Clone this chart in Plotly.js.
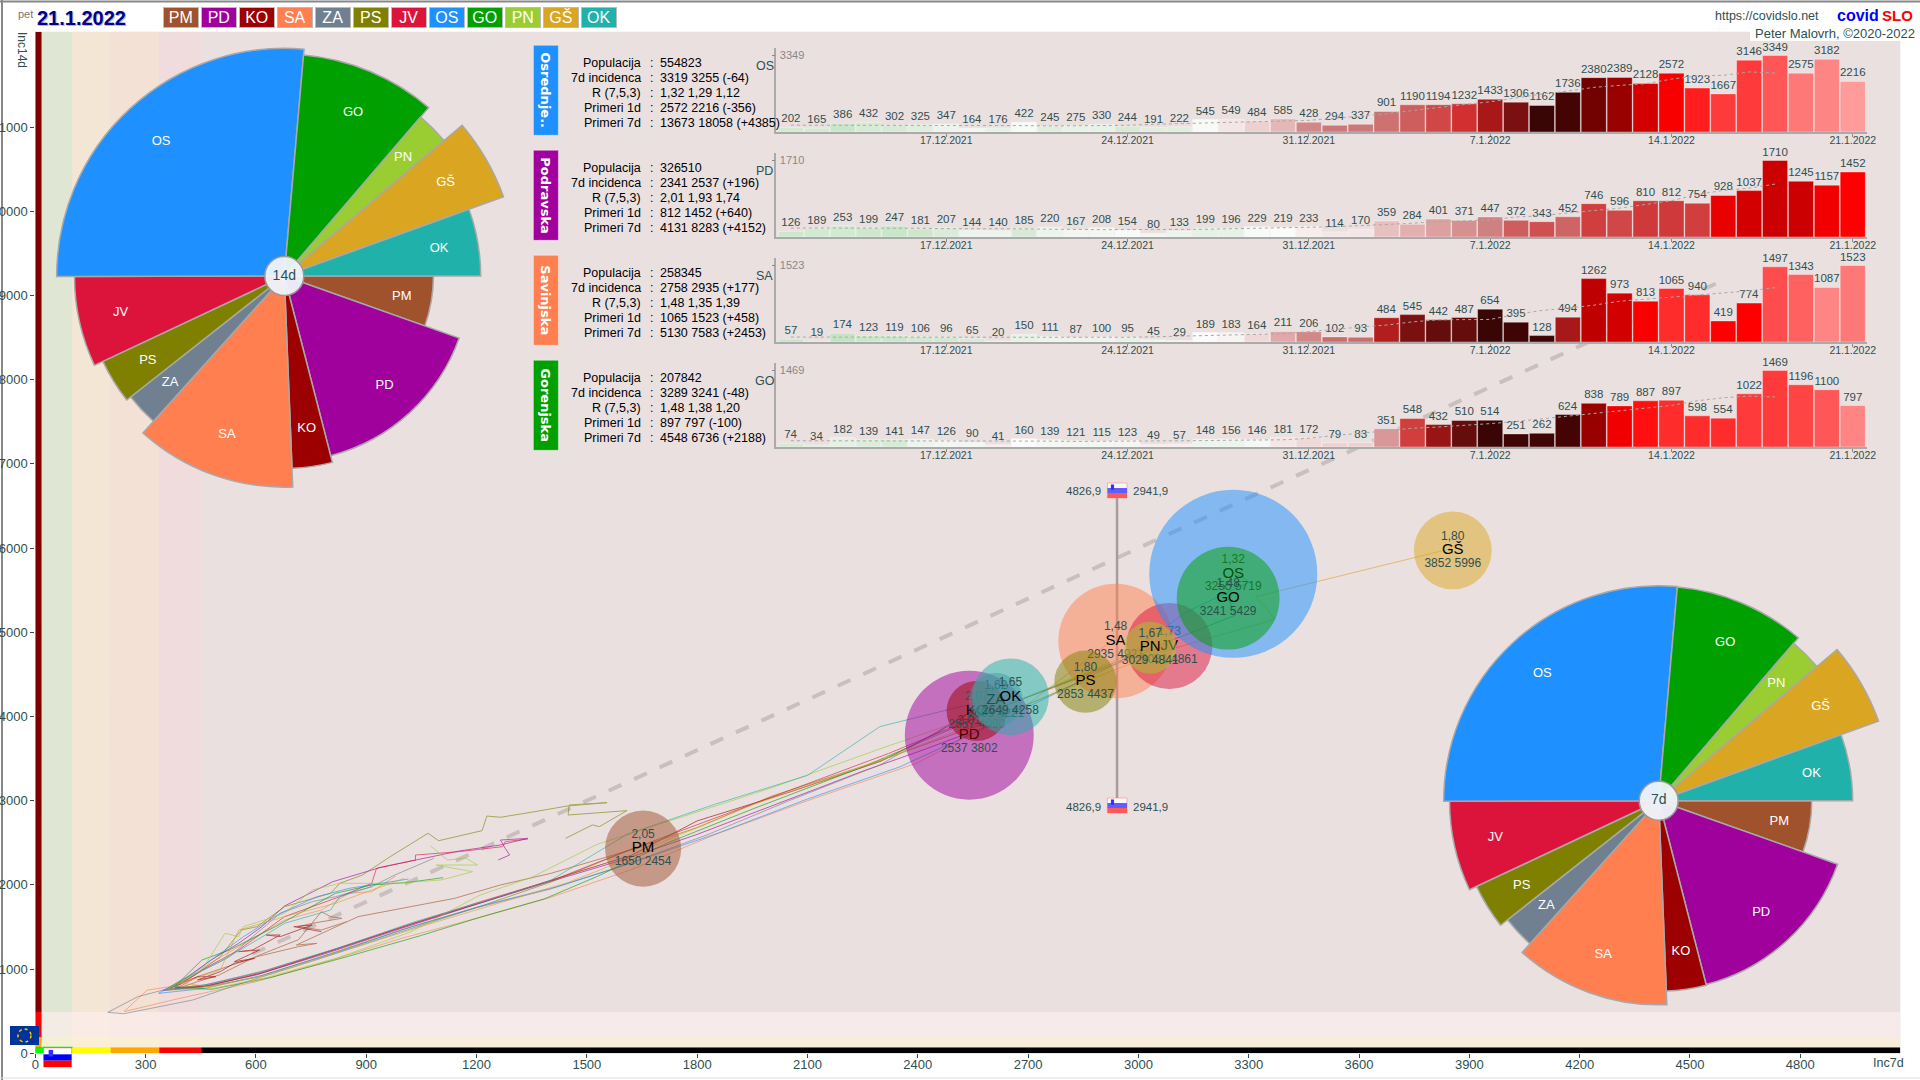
<!DOCTYPE html>
<html><head><meta charset="utf-8">
<script src="https://cdn.plot.ly/plotly-3.0.1.min.js"></script>
<style>html,body{margin:0;padding:0;background:#fff;overflow:hidden}#c{width:1920px;height:1080px}</style>
</head><body><div id="c"></div>
<script>
// ---------- data ----------
const codes   = ['PM','PD','KO','SA','ZA','PS','JV','OS','GO','PN','GŠ','OK'];
const colors  = ['#A0522D','#A0009C','#9C0000','#FF7F50','#708090','#808000','#DC143C','#1E90FF','#00A000','#9ACD32','#DAA520','#20B2AA'];
const populacija = [114000,326510,71000,258345,57000,76000,146000,554823,207842,53000,119000,116000];
const inc7  = [1650,2537,2557,2935,2609,2853,3081,3255,3241,3029,3852,2649];
const inc14 = [2454,3802,4090,4921,4221,4437,4861,5719,5429,4841,5996,4258];
const rLabels = ['2,05','2,01','2,07','1,48','1,62','1,80','1,73','1,32','1,48','1,67','1,80','1,65'];

const days = ['11.12.2021','12.12.2021','13.12.2021','14.12.2021','15.12.2021','16.12.2021','17.12.2021','18.12.2021','19.12.2021','20.12.2021','21.12.2021','22.12.2021','23.12.2021','24.12.2021','25.12.2021','26.12.2021','27.12.2021','28.12.2021','29.12.2021','30.12.2021','31.12.2021','1.1.2022','2.1.2022','3.1.2022','4.1.2022','5.1.2022','6.1.2022','7.1.2022','8.1.2022','9.1.2022','10.1.2022','11.1.2022','12.1.2022','13.1.2022','14.1.2022','15.1.2022','16.1.2022','17.1.2022','18.1.2022','19.1.2022','20.1.2022','21.1.2022'];
const dayTicks = ['17.12.2021','24.12.2021','31.12.2021','7.1.2022','14.1.2022','21.1.2022'];

const casesOS = [202,165,386,432,302,325,347,164,176,422,245,275,330,244,191,222,545,549,484,585,428,294,337,901,1190,1194,1232,1433,1306,1162,1736,2380,2389,2128,2572,1923,1667,3146,3349,2575,3182,2216];
const casesPD = [126,189,253,199,247,181,207,144,140,185,220,167,208,154,80,133,199,196,229,219,233,114,170,359,284,401,371,447,372,343,452,746,596,810,812,754,928,1037,1710,1245,1157,1452];
const casesSA = [57,19,174,123,119,106,96,65,20,150,111,87,100,95,45,29,189,183,164,211,206,102,93,484,545,442,487,654,395,128,494,1262,973,813,1065,940,419,774,1497,1343,1087,1523];
const casesGO = [74,34,182,139,141,147,126,90,41,160,139,121,115,123,49,57,148,156,146,181,172,79,83,351,548,432,510,514,251,262,624,838,789,887,897,598,554,1022,1469,1196,1100,797];

const avgOS = [300,300,305,309,303,305,310,283,279,280,265,269,276,293,337,367,403,429,444,461,511,603,704,797,940,1085,1203,1322,1492,1663,1791,1954,2042,2114,2315,2454,2480,2631,2580];
const avgPD = [200,200,200,200,203,196,186,189,178,182,174,165,164,166,162,171,173,184,189,194,217,230,254,276,307,343,368,381,447,475,538,590,645,728,812,950,1042,1092,1183];
const avgSA = [98,98,99,99,100,100,97,95,91,90,90,87,88,94,104,115,131,147,155,164,206,258,298,337,401,443,448,449,552,628,674,733,811,852,892,926,979,1018,1083];
const avgGO = [120,120,120,120,123,124,121,121,118,113,113,107,109,107,110,113,123,130,134,138,167,223,264,311,360,384,410,449,490,541,595,650,699,741,798,888,946,977,962];

// colour position of each bar on the shade scale
const shadeOS = [.1,.1,.05,.12,.12,.15,.2,.22,.18,.24,.15,.18,.18,.12,.15,.15,.24,.28,.31,.34,.4,.42,.42,.43,.46,.5,.55,.59,.62,.65,.67,.71,.74,.79,.84,.87,.89,.89,.92,.95,.96,.98];
const shadePD = [.08,.1,.1,.08,.05,.07,.13,.2,.2,.12,.2,.22,.22,.24,.22,.2,.17,.18,.24,.25,.27,.28,.28,.33,.35,.37,.39,.41,.46,.48,.45,.52,.5,.53,.53,.52,.82,.79,.78,.78,.83,.85];
const shadeSA = [.03,.1,.02,.06,.06,.1,.1,.12,.16,.18,.2,.2,.2,.18,.2,.2,.25,.26,.3,.36,.4,.44,.44,.58,.62,.63,.63,.65,.66,.66,.59,.77,.79,.84,.88,.88,.85,.85,.91,.93,.96,.95];
const shadeGO = [.12,.14,.17,.14,.12,.2,.22,.22,.27,.25,.23,.22,.22,.22,.27,.27,.2,.2,.23,.28,.3,.31,.31,.38,.52,.6,.63,.65,.66,.66,.67,.74,.83,.86,.88,.88,.88,.89,.89,.9,.92,.96];

const tableLabels = ['Populacija','7d incidenca','R (7,5,3)','Primeri 1d','Primeri 7d'];
const tableOS = ['554823','3319 3255 (-64)','1,32 1,29 1,12','2572 2216 (-356)','13673 18058 (+4385)'];
const tablePD = ['326510','2341 2537 (+196)','2,01 1,93 1,74','812 1452 (+640)','4131 8283 (+4152)'];
const tableSA = ['258345','2758 2935 (+177)','1,48 1,35 1,39','1065 1523 (+458)','5130 7583 (+2453)'];
const tableGO = ['207842','3289 3241 (-48)','1,48 1,38 1,20','897 797 (-100)','4548 6736 (+2188)'];

const trailXPM = [847,778,716,753,834,803,778,716,600,500,441,380,441,603,716,766,710,878,1140,1265,1402,1650];
const trailYPM = [1563,1464,1504,1544,1603,1623,1682,1350,1150,930,850,760,910,1148,1267,1306,1286,1623,1840,1999,2137,2454];
const trailXPD = [1259,1290,1278,1265,1340,1265,1153,1034,940,809,728,678,616,553,478,403,347,450,600,800,1000,1200,1400,1600,1800,2000,2250,2400,2537];
const trailYPD = [2296,2355,2434,2533,2553,2474,2403,2296,2209,2038,1860,1750,1504,1306,1108,871,745,790,930,1200,1490,1770,2040,2300,2600,2930,3350,3580,3802];
const trailXKO = [778,703,753,666,628,666,591,553,610,541,597,541,503,441,491,441,366,470,620,820,1020,1220,1420,1620,1800,2050,2300,2450,2557];
const trailYKO = [1445,1504,1524,1385,1405,1405,1227,1207,1227,1088,1128,1069,970,871,910,910,772,800,960,1240,1530,1800,2080,2350,2760,3100,3470,3800,4090];
const trailXSA = [980,915,853,778,678,553,441,366,304,241,380,600,800,1000,1215,1400,1620,1850,2100,2400,2700,2935];
const trailYSA = [2106,1920,1900,1702,1583,1267,989,791,750,494,640,850,1100,1370,1620,1850,2180,2600,3000,3450,4150,4921];
const trailXZA = [1084,978,915,816,753,666,591,528,441,366,279,235,197,241,428,553,778,1000,1200,1400,1600,1830,2050,2300,2609];
const trailYZA = [2316,2118,1979,1860,1801,1662,1385,1148,950,772,673,574,486,470,633,820,1130,1450,1730,1950,2230,2600,3000,3430,4221];
const trailXPS = [1442,1515,1534,1609,1449,1452,1555,1446,1359,1265,1228,1215,1097,1068,965,890,828,803,678,603,560,503,428,354,450,600,800,1000,1220,1400,1620,1800,2000,2300,2600,2853];
const trailYPS = [2553,2712,2692,2882,2830,2949,2977,2937,2870,2803,2818,2644,2525,2613,2335,2118,2019,1900,1742,1504,1464,1148,910,752,780,900,1180,1470,1760,2030,2420,2680,3050,3480,3950,4437];
const trailXJV = [1340,1278,1271,1153,1034,1034,928,915,828,778,678,616,553,453,379,460,610,810,1010,1210,1410,1600,1830,2050,2320,2620,2900,3081];
const trailYJV = [2545,2514,2454,2395,2355,2296,2197,2019,1860,1781,1623,1425,1227,989,772,810,960,1230,1520,1800,2060,2390,2760,3120,3560,4100,4560,4861];
const trailXOS = [1015,940,853,766,666,566,491,403,335,460,620,820,1020,1230,1420,1620,1860,2100,2350,2600,2950,3125,3303,3255];
const trailYOS = [2070,2019,1959,1860,1662,1385,1148,871,712,770,930,1200,1500,1770,1980,2260,2620,3020,3400,3900,4650,5229,5600,5719];
const trailXGO = [1109,1059,1009,915,816,653,528,453,379,480,640,850,1050,1215,1384,1527,1720,1950,2250,2650,3000,3265,3241];
const trailYGO = [2086,2058,2027,1999,1900,1504,1227,1108,791,760,900,1150,1400,1623,1833,2098,2500,2900,3400,4150,4750,5205,5429];
const trailXPN = [1074,1121,1171,1203,1090,1190,1103,978,828,753,678,566,553,516,453,354,470,620,820,1020,1210,1350,1527,1750,2000,2300,2650,2900,3029];
const trailYPN = [2466,2296,2316,2236,2236,2157,2058,2019,2019,1940,1662,1504,1385,1425,989,752,760,890,1130,1440,1880,2090,2480,2800,3150,3620,4150,4600,4841];
const trailXGS = [1003,915,816,678,553,503,397,480,640,850,1060,1250,1450,1560,1700,1950,2300,2700,3050,3372,3319,3852];
const trailYGS = [2077,1940,1781,1623,1464,989,831,790,940,1230,1520,1770,2030,2220,2500,2950,3480,4150,4750,5157,5423,5996];
const trailXOK = [915,828,803,728,678,603,503,397,354,470,630,830,1030,1240,1400,1609,1850,2100,2297,2500,2649];
const trailYOK = [1979,1860,1702,1603,1544,1346,1088,871,752,820,990,1260,1560,1830,2050,2600,2960,3300,3880,4100,4258];

const trendX = [590,4570];
const trendY = [1180,9140];
const avgIncX = [2941.9,2941.9];
const avgIncY = [3032,6600];

const xTicks = [0,300,600,900,1200,1500,1800,2100,2400,2700,3000,3300,3600,3900,4200,4500,4800];
const yTicks = [0,1000,2000,3000,4000,5000,6000,7000,8000,9000,10000,11000];
const colEdges = [17,100,205,337,451];
const colFills = ['#dfe6d3','#f3e6d5','#f3e1d5','#f0dcdc'];
const rowEdges = [75,194,490];
const rowFills = ['rgba(255,245,215,.62)','rgba(255,240,240,.6)'];
const sideEdges = [0,75,194,490,12133];
const sideFills = ['#00dd00','#ffa500','#ff0000','#800000'];
const footEdges = [0,22,100,205,337,451,5072];
const footFills = ['#00ff00','#ffffff','#ffff00','#ffa500','#ff0000','#000000'];

// ---------- helpers ----------
const W=1920,H=1080;
const WIDE="'Liberation Sans',Arial,sans-serif";
const INK='#2F4F4F';
const px=x=>x/W, py=y=>1-y/H;
const note=(x,y,text,o={})=>Object.assign({xref:'paper',yref:'paper',x:px(x),y:py(y),text,showarrow:false,xanchor:'left',yanchor:'middle',
  font:{family:WIDE,size:12.5,color:INK}},o);
const rect=(x0,y0,x1,y1,fill,o={})=>Object.assign({type:'rect',xref:'paper',yref:'paper',x0:px(x0),x1:px(x1),y0:py(y0),y1:py(y1),fillcolor:fill,line:{width:0},layer:'below'},o);

const traces=[],annotations=[],shapes=[];

// ---------- backgrounds ----------
shapes.push(rect(35.3,31.7,1900.3,1053.3,'#ebe0e0'));
shapes.push({type:'line',xref:'paper',yref:'paper',x0:0,x1:1,y0:py(1.5),y1:py(1.5),line:{color:'#888',width:2},layer:'below'});
shapes.push({type:'line',xref:'paper',yref:'paper',x0:px(2),x1:px(2),y0:0,y1:1,line:{color:'#888',width:2},layer:'below'});
shapes.push({type:'line',xref:'paper',yref:'paper',x0:0,x1:1,y0:py(1078),y1:py(1078),line:{color:'#ddd',width:1},layer:'below'});
const band=(x0,x1,y0,y1,fill,o={})=>Object.assign({type:'rect',xref:'x',yref:'y',x0,x1,y0,y1,fillcolor:fill,line:{width:0},layer:'below'},o);
colFills.forEach((f,i)=>shapes.push(band(colEdges[i],colEdges[i+1],0,12133,f)));
rowFills.forEach((f,i)=>shapes.push(band(0,5072,rowEdges[i],rowEdges[i+1],f)));
sideFills.forEach((f,i)=>shapes.push(band(0,17,sideEdges[i],sideEdges[i+1],f)));
footFills.forEach((f,i)=>shapes.push(band(footEdges[i],footEdges[i+1],0,70,f,i==1?{line:{width:1.5,color:'#00ee00'}}:{})));

// ---------- trend and trails ----------
traces.push({type:'scatter',mode:'lines',x:trendX,y:trendY,line:{color:'#c9bfbf',width:4,dash:'14px,14px'},hoverinfo:'skip'});
const trailX=[trailXPM,trailXPD,trailXKO,trailXSA,trailXZA,trailXPS,trailXJV,trailXOS,trailXGO,trailXPN,trailXGS,trailXOK];
const trailY=[trailYPM,trailYPD,trailYKO,trailYSA,trailYZA,trailYPS,trailYJV,trailYOS,trailYGO,trailYPN,trailYGS,trailYOK];
codes.forEach((c,i)=>traces.push({type:'scatter',mode:'lines',x:trailX[i],y:trailY[i],line:{color:colors[i],width:1},opacity:.6,hoverinfo:'skip'}));
traces.push({type:'scatter',mode:'lines',x:avgIncX,y:avgIncY,line:{color:'#a89c9c',width:2.5},hoverinfo:'skip'});

// ---------- bubbles ----------
const lift=163, nudgeX=3, nudgeY=24;
codes.forEach((c,i)=>{
  const bx=inc7[i]+nudgeX, by=inc14[i]-nudgeY;
  traces.push({type:'scatter',mode:'markers',x:[bx],y:[by],
    marker:{size:[populacija[i]],sizemode:'area',sizeref:39.3,color:colors[i],opacity:.5,line:{width:0}},hoverinfo:'skip'});
  traces.push({type:'scatter',mode:'text',x:[bx,bx,bx],y:[by+lift,by,by-lift],
    text:[rLabels[i],c,inc7[i]+' '+inc14[i]],textposition:'middle center',
    textfont:{family:WIDE,size:[12,15,12],color:[INK,'#000',INK]},hoverinfo:'skip'});
});

// ---------- regional bars ----------
const shadeScale=[[0,'#bfe3bf'],[.12,'#d6ead6'],[.25,'#fbfbfb'],[.3,'#f0d8d8'],[.36,'#e0a8a8'],[.42,'#cc7878'],[.48,'#cf5050'],[.55,'#d03030'],[.59,'#a81818'],[.62,'#7a1010'],[.65,'#3a0505'],[.68,'#4a0404'],[.72,'#800000'],[.78,'#cc0000'],[.85,'#ff0000'],[.89,'#ff3a3a'],[.93,'#ff6060'],[.97,'#ff9090'],[1,'#ffb0b0']];
const panelCases=[casesOS,casesPD,casesSA,casesGO], panelAvg=[avgOS,avgPD,avgSA,avgGO], panelShade=[shadeOS,shadePD,shadeSA,shadeGO];
const panelCodes=['OS','PD','SA','GO'], panelNames=['Osrednje..','Podravska','Savinjska','Gorenjska'];
const panelFill=['#1E90FF','#A0009C','#FF7F50','#00A000'], panelTable=[tableOS,tablePD,tableSA,tableGO];

const layout={width:W,height:H,margin:{l:0,r:0,t:0,b:0},paper_bgcolor:'#ffffff',plot_bgcolor:'rgba(0,0,0,0)',showlegend:false,barmode:'overlay',
  xaxis:{domain:[px(35.3),px(1900.3)],range:[0,5072],tickvals:xTicks,ticks:'outside',ticklen:4,tickcolor:INK,ticklabelstandoff:-5,tickfont:{family:WIDE,size:13,color:INK},showgrid:false,zeroline:false,showline:false},
  yaxis:{domain:[py(1053.3),py(31.7)],range:[0,12133],tickvals:yTicks,tickformat:'d',ticks:'outside',ticklen:4,tickcolor:INK,tickfont:{family:WIDE,size:13,color:INK},showgrid:false,zeroline:false,showline:false},
  bargap:.03};

panelCases.forEach((vals,p)=>{
  const base=132+105*p, n=p+2, xa='x'+n, ya='y'+n, top=Math.max(...vals);
  layout['xaxis'+n]={domain:[px(776.3),px(1867)],anchor:ya,type:'category',categoryorder:'array',categoryarray:days,range:[-0.563,41.55],
    tickmode:'array',tickvals:dayTicks,ticktext:dayTicks,ticks:'outside',ticklen:3,tickcolor:'#888',showline:true,linecolor:'#aaa',linewidth:1.5,ticklabelstandoff:-5,
    tickfont:{family:WIDE,size:10.5,color:INK},showgrid:false,zeroline:false,tickangle:0};
  layout['yaxis'+n]={domain:[py(base),py(base-84)],anchor:xa,range:[0,top*84/76.5],tickmode:'array',tickvals:[top],ticks:'outside',ticklen:3,tickcolor:'#888',
    ticklabelposition:'inside',ticklabelstandoff:3,showline:true,linecolor:'#aaa',linewidth:1.5,tickfont:{family:WIDE,size:11,color:'#888'},showgrid:false,zeroline:false};
  traces.push({type:'bar',xaxis:xa,yaxis:ya,x:days,y:vals,text:vals.map(String),textposition:'outside',textangle:0,constraintext:'none',cliponaxis:false,
    textfont:{family:WIDE,size:11.5,color:INK},
    marker:{color:panelShade[p],colorscale:shadeScale,cmin:0,cmax:1,showscale:false,line:{color:'rgba(255,255,255,.35)',width:1}},hoverinfo:'skip'});
  traces.push({type:'scatter',mode:'lines',xaxis:xa,yaxis:ya,x:days.slice(0,panelAvg[p].length),y:panelAvg[p],line:{color:'#a8a8a8',width:1,dash:'dot'},hoverinfo:'skip'});
  // tag and table
  shapes.push(rect(533.4,45.3+105*p,558.4,135.3+105*p,panelFill[p],{line:{color:'rgba(255,255,255,.4)',width:1}}));
  annotations.push(note(546,90.3+105*p,panelNames[p],{textangle:90,xanchor:'center',font:{family:"'DejaVu Sans',sans-serif",size:13,color:'#fff',weight:700}}));
  annotations.push(note(764.6,66+105*p,panelCodes[p],{xanchor:'center',font:{family:WIDE,size:12.5,color:INK}}));
  tableLabels.forEach((l,r)=>{
    const y=62.7+15*r+105*p;
    annotations.push(note(642.8,y,l,{xanchor:'right',font:{family:WIDE,size:12.5,color:'#000'}}));
    annotations.push(note(651.7,y,':',{xanchor:'center',font:{family:WIDE,size:12.5,color:'#000'}}));
    annotations.push(note(658,y,panelTable[p][r],{font:{family:WIDE,size:12.5,color:'#000'}}));
  });
});

// ---------- pies ----------
const total=populacija.reduce((a,b)=>a+b,0);
const widths=populacija.map(v=>v/total*360);
let run=0; const thetas=widths.map(w=>{const t=run+w/2;run+=w;return t;});
function pie(sub,cx,cy,incs,unit,tag){
  const R=240;
  layout[sub]={domain:{x:[px(cx-R),px(cx+R)],y:[py(cy+R),py(cy-R)]},bgcolor:'rgba(0,0,0,0)',bargap:0,
    radialaxis:{visible:false,range:[0,R/unit]},angularaxis:{visible:false,rotation:0,direction:'clockwise'}};
  const radii=incs.map(v=>Math.sqrt(v));
  traces.push({type:'barpolar',subplot:sub,r:radii,theta:thetas,width:widths,marker:{color:colors,line:{color:'#a8a8a8',width:1.5}},hoverinfo:'skip'});
  traces.push({type:'scatterpolar',subplot:sub,mode:'text',r:radii.map(v=>v*.8),theta:thetas,text:codes,textposition:'middle center',
    textfont:{family:WIDE,size:13,color:'#fff'},hoverinfo:'skip'});
  traces.push({type:'scatterpolar',subplot:sub,mode:'markers+text',r:[0],theta:[0],text:[tag],textposition:'middle center',
    marker:{size:39,color:'rgba(240,244,250,.95)',line:{color:'#999',width:1.5}},textfont:{family:WIDE,size:14,color:INK},hoverinfo:'skip'});
}
pie('polar',284.3,276,inc14,3.01,'14d');
pie('polar2',1658.7,800.7,inc7,3.768,'7d');

// ---------- header ----------
annotations.push(note(16,14,'pet',{font:{family:WIDE,size:11,color:'#777'}}));
annotations.push(note(35.7,19,'21.1.2022',{font:{family:WIDE,size:20,color:'#b8b8c8',weight:700}}));
annotations.push(note(34.5,18,'21.1.2022',{font:{family:WIDE,size:20,color:'#00008B',weight:700}}));
codes.forEach((c,i)=>annotations.push(note(181+38*i,17.5,c,{xanchor:'center',width:33.5,height:18.5,bgcolor:colors[i],bordercolor:'#bbb',borderwidth:1,borderpad:0,align:'center',
  font:{family:WIDE,size:16,color:'#fff'}})));
annotations.push(note(1713,16,'https://covidslo.net',{font:{family:WIDE,size:12.5,color:INK}}));
annotations.push(note(1835,15.5,'covid',{font:{family:WIDE,size:16,color:'#0000ff',weight:700}}));
annotations.push(note(1880,15.5,'SLO',{font:{family:WIDE,size:15,color:'#ff0000',weight:700}}));
shapes.push(rect(1750,28,W,41,'#ffffff',{layer:'above'}));
annotations.push(note(1753,34,'Peter Malovrh, ©2020-2022',{font:{family:WIDE,size:13,color:INK}}));
annotations.push(note(22,50,'Inc14d',{textangle:90,xanchor:'center',font:{family:WIDE,size:12,color:INK}}));
annotations.push(note(1888,1063,'Inc7d',{xanchor:'center',font:{family:WIDE,size:12.5,color:INK}}));

// ---------- flags ----------
function slo(x,y,w,h,a){
  shapes.push(rect(x,y,x+w,y+h,a?'#ffffff':'#f8f8f8',{layer:'above',line:{color:'rgba(255,120,120,.5)',width:1}}));
  shapes.push(rect(x,y+h/3,x+w,y+2*h/3,a?'#0000ff':'#5f5fff',{layer:'above'}));
  shapes.push(rect(x,y+2*h/3,x+w,y+h,a?'#ff0000':'#ff5858',{layer:'above'}));
  shapes.push(rect(x+w*.18,y+h*.1,x+w*.34,y+h*.45,'#3030ff',{layer:'above'}));
}
slo(1107.4,483,19.6,15,false); slo(1107.4,798,19.6,15,false); slo(43.6,1048,28,19,true);
annotations.push(note(1103.4,491,'4826,9',{xanchor:'right',font:{family:WIDE,size:11.5,color:INK}}));
annotations.push(note(1131,491,'2941,9',{font:{family:WIDE,size:11.5,color:INK}}));
annotations.push(note(1103.4,807,'4826,9',{xanchor:'right',font:{family:WIDE,size:11.5,color:INK}}));
annotations.push(note(1131,807,'2941,9',{font:{family:WIDE,size:11.5,color:INK}}));
shapes.push(rect(10,1026,39,1045,'#003399',{layer:'above'}));
shapes.push({type:'circle',xref:'paper',yref:'paper',x0:px(18),x1:px(31),y0:py(1042),y1:py(1029),fillcolor:'rgba(0,0,0,0)',line:{color:'#ffcc00',width:1.5,dash:'dot'},layer:'above'});

layout.shapes=shapes; layout.annotations=annotations;
Plotly.newPlot('c',traces,layout,{displayModeBar:false,responsive:false});
</script></body></html>
